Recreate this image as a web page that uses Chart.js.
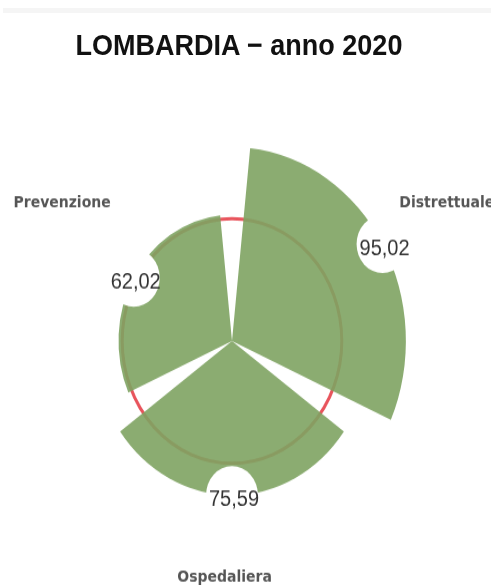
<!DOCTYPE html>
<html lang="it">
<head>
<meta charset="utf-8">
<title>LOMBARDIA − anno 2020</title>
<script src="https://cdn.jsdelivr.net/npm/chart.js@4"></script>
<style>
  html, body { margin: 0; padding: 0; background: #fff; overflow: hidden; }
  #riga { position: absolute; top: 8px; left: 3px; width: 488px; height: 5px; background: #f5f5f5; }
  /* the reference is a little stretched vertically, so the whole chart is too */
  #box { position: absolute; top: 0; left: 0; width: 491px; height: 525px; transform: scaleY(1.1143); transform-origin: 0 0; }
  #titolo { position: absolute; top: 25px; left: 0; width: 478px; line-height: 32px; text-align: center;
            font: bold 27px "Liberation Sans", Arial, sans-serif; color: #111; }
  canvas { position: absolute; top: 0; left: 0; }
</style>
</head>
<body>
<div id="riga"></div>
<div id="box">
  <div id="titolo">LOMBARDIA − anno 2020</div>
  <canvas id="chart" width="491" height="525" style="width:491px;height:525px"></canvas>
</div>
<script>
const aree = ['Distrettuale', 'Ospedaliera', 'Prevenzione'];
const punteggi = [95.02, 75.59, 62.02];
const soglia = 60;
const scalaMax = 100;

function formatNum(v) {
  return v.toFixed(2).replace('.', ',');
}

// leave a wedge-shaped gap between the sectors
const spazi = {
  id: 'spazi',
  afterDatasetUpdate(chart, args, opts) {
    const g = opts.gradi * Math.PI / 180 / 2;
    args.meta.data.forEach(arc => {
      arc.startAngle += g;
      arc.endAngle -= g;
    });
  }
};

// value bubbles on the outer edge + category names
const etichette = {
  id: 'etichette',
  afterDatasetsDraw(chart, args, opts) {
    const ctx = chart.ctx;
    const r = chart.scales.r;
    const meta = chart.getDatasetMeta(0);
    ctx.save();
    ctx.textAlign = 'center';
    ctx.textBaseline = 'middle';
    meta.data.forEach((arc, i) => {
      const mid = (arc.startAngle + arc.endAngle) / 2;
      const x = arc.x + Math.cos(mid) * arc.outerRadius;
      const y = arc.y + Math.sin(mid) * arc.outerRadius;
      ctx.fillStyle = '#fff';
      ctx.beginPath();
      ctx.arc(x, y, opts.raggio, 0, Math.PI * 2);
      ctx.fill();
      ctx.fillStyle = '#333';
      ctx.font = '20px "Liberation Sans", Arial, sans-serif';
      ctx.fillText(formatNum(punteggi[i]), x + 2, y + 4);

      const p = opts.posizioni[i];
      const a = p.a * Math.PI / 180;
      ctx.fillStyle = '#555';
      ctx.font = 'bold 14px "DejaVu Sans", sans-serif';
      ctx.fillText(chart.data.labels[i], r.xCenter + Math.cos(a) * p.d, r.yCenter + Math.sin(a) * p.d);
    });
    ctx.restore();
  }
};

new Chart(document.getElementById('chart'), {
  type: 'polarArea',
  data: {
    labels: aree,
    datasets: [{
      data: punteggi,
      backgroundColor: 'rgba(126,163,98,0.9)',
      borderWidth: 0
    }]
  },
  options: {
    responsive: false,
    animation: false,
    layout: { padding: { left: 49, right: 76, top: 107, bottom: 20 } },
    scales: {
      r: {
        min: 0,
        max: scalaMax,
        ticks: { display: false, stepSize: 10 },
        grid: {
          color: c => c.tick && c.tick.value === soglia ? 'rgb(232,84,92)' : 'transparent',
          lineWidth: c => c.tick && c.tick.value === soglia ? 3 : 0
        },
        angleLines: { display: false },
        pointLabels: { display: false }
      }
    },
    plugins: {
      legend: { display: false },
      tooltip: { enabled: false },
      spazi: { gradi: 12 },
      etichette: {
        raggio: 26,
        posizioni: [{ d: 248, a: -30 }, { d: 212, a: 92 }, { d: 210, a: 216 }]
      }
    }
  },
  plugins: [spazi, etichette]
});
</script>
</body>
</html>
